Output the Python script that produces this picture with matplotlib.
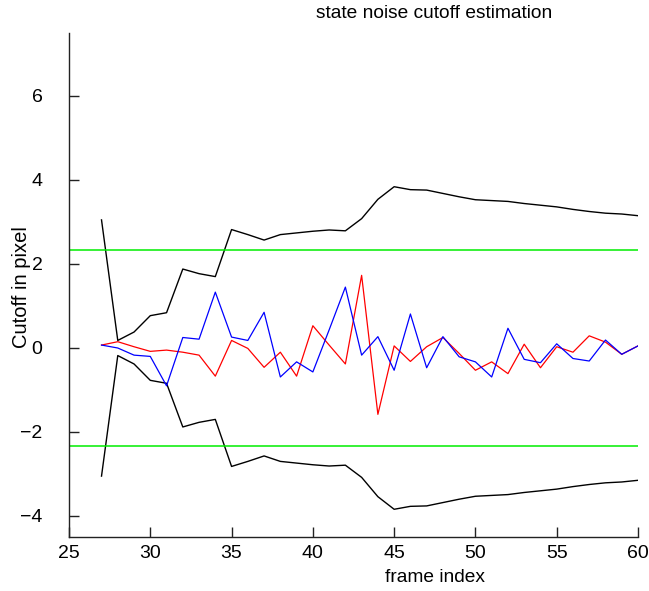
import matplotlib
matplotlib.use("Agg")
import matplotlib.pyplot as plt
import numpy as np

# frame indices
frames = list(range(27, 61))

# symmetric cutoff envelope (upper branch; lower branch is its negative)
envelope = [3.05, 0.18, 0.38, 0.77, 0.84, 1.88, 1.77, 1.70, 2.82, 2.70,
            2.57, 2.70, 2.74, 2.78, 2.81, 2.79, 3.08, 3.54, 3.84, 3.77,
            3.76, 3.68, 3.60, 3.53, 3.51, 3.49, 3.44, 3.40, 3.36, 3.30,
            3.25, 3.21, 3.19, 3.15]

# state noise estimates
red_series = [0.07, 0.15, 0.03, -0.08, -0.05, -0.10, -0.17, -0.67, 0.18, -0.01,
              -0.46, -0.10, -0.67, 0.53, 0.07, -0.38, 1.73, -1.58, 0.05, -0.32,
              0.03, 0.25, -0.13, -0.53, -0.33, -0.61, 0.09, -0.47, 0.03, -0.10,
              0.29, 0.14, -0.15, 0.05]
blue_series = [0.07, 0.00, -0.17, -0.20, -0.90, 0.25, 0.21, 1.33, 0.26, 0.18,
               0.85, -0.69, -0.33, -0.57, 0.43, 1.45, -0.17, 0.27, -0.53, 0.81,
               -0.47, 0.27, -0.21, -0.33, -0.69, 0.47, -0.27, -0.35, 0.10, -0.25,
               -0.31, 0.19, -0.15, 0.05]

# confidence threshold
threshold = 2.33

xticks = [25, 30, 35, 40, 45, 50, 55, 60]
yticks = [-4, -2, 0, 2, 4, 6]

plt.rcParams['font.family'] = ['Liberation Sans', 'DejaVu Sans']

fig = plt.figure(figsize=(6.49, 5.91), dpi=100)
ax = fig.add_axes([69/649, 1-537/591, (638-69)/649, (537-33)/591])

env = np.array(envelope)
ax.plot(frames, env, color='black', lw=1.0)
ax.plot(frames, -env, color='black', lw=1.0)
ax.axhline(threshold, color='#00ee00', lw=1.1)
ax.axhline(-threshold, color='#00ee00', lw=1.1)
ax.plot(frames, red_series, color='#ff0000', lw=0.9)
ax.plot(frames, blue_series, color='#0000ff', lw=0.9)

ax.set_xlim(25, 60)
ax.set_ylim(-4.5, 7.5)
ax.set_xticks(xticks)
ax.set_yticks(yticks)
ax.spines['top'].set_visible(False)
ax.spines['right'].set_visible(False)
for s in ('left', 'bottom'):
    ax.spines[s].set_linewidth(1.0)
    ax.spines[s].set_color('#222222')
ax.tick_params(direction='in', length=7, width=1.0, labelsize=14,
               color='#222222')
ax.tick_params(axis='y', pad=19)
ax.tick_params(axis='x', pad=6)

fig.text(434/649, 1-13/591, 'state noise cutoff estimation', ha='center',
         va='center', fontsize=13.8)
fig.text(435/649, 1-577/591, 'frame index', ha='center', va='center',
         fontsize=13.8)
fig.text(22/649, 1-287/591, 'Cutoff in pixel', ha='center', va='center',
         rotation=90, fontsize=14.5)

fig.savefig('out.png', dpi=100)
